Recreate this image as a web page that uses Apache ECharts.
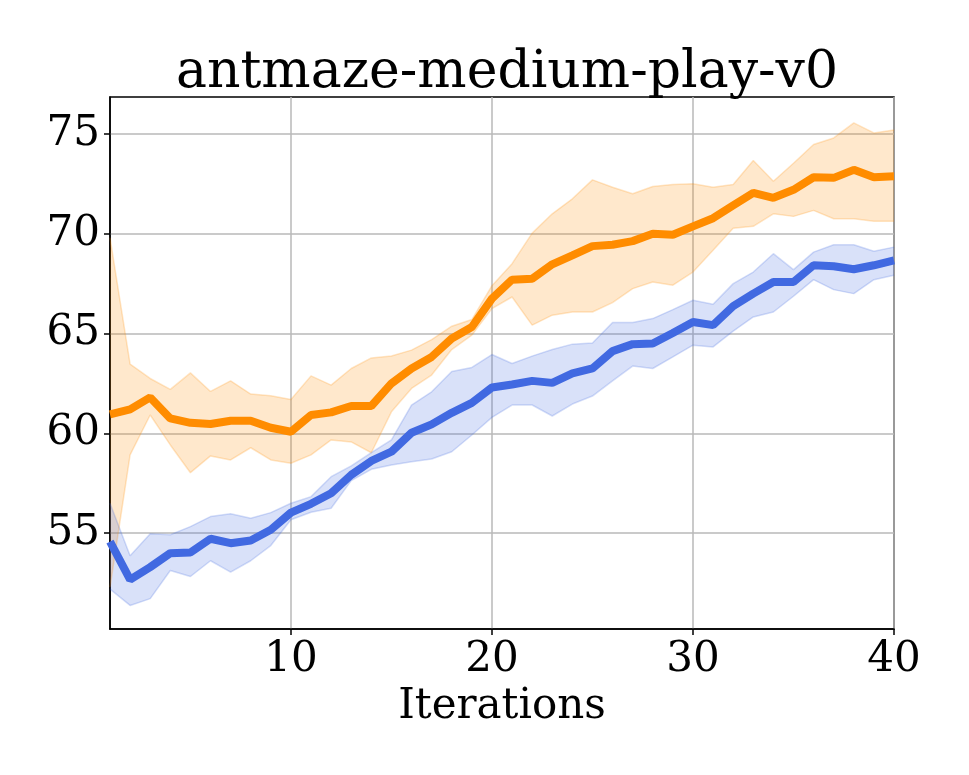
<!DOCTYPE html>
<html>
<head>
<meta charset="utf-8">
<script src="https://cdn.jsdelivr.net/npm/echarts@6/dist/echarts.min.js"></script>
<style>
  html, body { margin: 0; padding: 0; background: #fff; }
  #chart { width: 969px; height: 775px; }
</style>
</head>
<body>
<div id="chart"></div>
<script>
// 迭代次数 1..40
const iterations = [1,2,3,4,5,6,7,8,9,10,11,12,13,14,15,16,17,18,19,20,21,22,23,24,25,26,27,28,29,30,31,32,33,34,35,36,37,38,39,40]

// 橙色曲线 均值 / 上界 / 下界
const orangeMean = [60.95,61.2,61.8,60.75,60.53,60.47,60.63,60.63,60.28,60.08,60.92,61.05,61.37,61.37,62.5,63.25,63.83,64.75,65.33,66.75,67.7,67.75,68.47,68.92,69.38,69.45,69.63,70.0,69.95,70.37,70.78,71.42,72.05,71.8,72.2,72.83,72.8,73.2,72.83,72.88]
const orangeUpper = [69.8,63.47,62.75,62.2,63.03,62.1,62.63,61.97,61.88,61.7,62.88,62.42,63.25,63.78,63.88,64.17,64.7,65.37,65.7,67.4,68.5,70.03,71.0,71.75,72.7,72.33,72.0,72.37,72.47,72.5,72.33,72.47,73.67,72.63,73.53,74.47,74.8,75.55,75.05,75.2]
const orangeLower = [52.3,58.92,60.92,59.42,58.03,58.87,58.67,59.28,58.67,58.5,58.92,59.67,59.57,59.03,61.08,62.25,62.92,64.2,64.92,66.25,66.83,65.42,65.92,66.08,66.08,66.55,67.25,67.58,67.42,68.08,69.17,70.28,70.37,71.0,70.87,71.17,70.75,70.75,70.62,70.62]

// 蓝色曲线 均值 / 上界 / 下界
const blueMean = [54.58,52.67,53.3,54.0,54.03,54.72,54.5,54.63,55.17,56.03,56.47,57.0,57.92,58.62,59.08,60.03,60.45,61.03,61.53,62.3,62.45,62.63,62.53,63.0,63.25,64.12,64.47,64.5,65.03,65.58,65.42,66.37,67.0,67.58,67.58,68.42,68.37,68.22,68.42,68.67]
const blueUpper = [56.5,53.87,54.97,54.92,55.33,55.83,55.97,55.75,56.03,56.5,56.83,57.83,58.37,59.03,59.67,61.42,62.08,63.1,63.3,63.95,63.5,63.87,64.2,64.47,64.53,65.55,65.55,65.75,66.2,66.67,66.47,67.5,68.08,69.0,68.2,69.08,69.45,69.45,69.12,69.33]
const blueLower = [52.2,51.38,51.72,53.13,52.83,53.62,53.05,53.62,54.38,55.67,56.05,56.25,57.63,58.2,58.42,58.58,58.72,59.08,59.92,60.8,61.42,61.42,60.87,61.47,61.87,62.63,63.37,63.25,63.83,64.42,64.33,65.12,65.83,66.08,66.87,67.7,67.2,67.0,67.7,67.92]

// 刻度
const xTicks = [10, 20, 30, 40]
const yTicks = [55, 60, 65, 70, 75]

const titleText = 'antmaze-medium-play-v0'
const xName = 'Iterations'
const font = "'DejaVu Serif', serif"

const chart = echarts.init(document.getElementById('chart'), null, { renderer: 'canvas' })

// 只在 10/20/30/40 处显示刻度
function showTick(index, value) {
  return xTicks.indexOf(Number(value)) >= 0
}

// 填充带：下界(细线) + 差值(堆叠填充)
function band(name, lower, upper, fill, edge) {
  return [
    {
      name: name + '-low',
      type: 'line',
      stack: name,
      data: lower,
      symbol: 'none',
      silent: true,
      lineStyle: { width: 1.5, color: edge },
      z: 1
    },
    {
      name: name + '-band',
      type: 'line',
      stack: name,
      data: upper.map((v, i) => +(v - lower[i]).toFixed(2)),
      symbol: 'none',
      silent: true,
      lineStyle: { width: 1.5, color: edge },
      areaStyle: { color: fill, opacity: 1 },
      z: 1
    }
  ]
}

function meanLine(name, data, color) {
  return {
    name: name,
    type: 'line',
    data: data,
    symbol: 'none',
    silent: true,
    lineStyle: { width: 8, color: color },
    z: 3
  }
}

const option = {
  animation: false,
  backgroundColor: '#fff',
  title: {
    text: titleText,
    left: 502,
    top: 42,
    textAlign: 'center',
    textStyle: { fontFamily: font, fontSize: 52, fontWeight: 'normal', color: '#000' }
  },
  grid: {
    left: 110,
    right: 75,
    top: 97,
    bottom: 146,
    show: true,
    borderColor: '#000',
    borderWidth: 1.5,
    containLabel: false
  },
  xAxis: {
    type: 'category',
    boundaryGap: false,
    data: iterations,
    name: xName,
    nameLocation: 'middle',
    nameGap: 55,
    nameTextStyle: { fontFamily: font, fontSize: 42, color: '#000' },
    axisLine: { show: true, lineStyle: { color: '#000', width: 1.5 } },
    axisTick: { show: true, inside: false, length: 6, interval: showTick, lineStyle: { color: '#000', width: 1.5 } },
    axisLabel: { interval: showTick, margin: 10, fontFamily: font, fontSize: 42, color: '#000' },
    splitLine: { show: true, interval: showTick, lineStyle: { color: '#b8b8b8', width: 1.5 } }
  },
  yAxis: {
    type: 'value',
    min: 50.2,
    max: 76.85,
    axisLine: { show: true, lineStyle: { color: '#000', width: 1.5 } },
    axisTick: { show: true, inside: false, length: 6, customValues: yTicks, lineStyle: { color: '#000', width: 1.5 } },
    axisLabel: { customValues: yTicks, margin: 10, fontFamily: font, fontSize: 42, color: '#000' },
    splitLine: { show: true, lineStyle: { color: '#b8b8b8', width: 1.5 } }
  },
  series: [
    ...band('orange', orangeLower, orangeUpper, 'rgba(255,140,0,0.2)', 'rgba(255,140,0,0.22)'),
    ...band('blue', blueLower, blueUpper, 'rgba(65,105,225,0.2)', 'rgba(65,105,225,0.22)'),
    meanLine('orange', orangeMean, '#ff8c00'),
    meanLine('blue', blueMean, '#4169e1')
  ]
}

chart.setOption(option)
</script>
</body>
</html>
